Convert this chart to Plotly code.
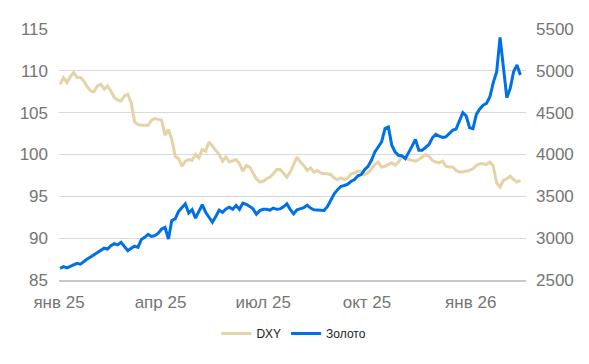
import pandas as pd
import plotly.graph_objects as go

# Dates: every 3 calendar days from 2 Jan 2025
dates = pd.date_range("2025-01-02", periods=137, freq="3D")

dxy = [
    108.4, 109.2, 108.6, 109.3, 109.8, 109.2, 109.2, 108.8, 108.1, 107.6,
    107.5, 108.2, 108.4, 107.8, 108.2, 107.6, 106.8, 106.5, 106.4, 107.0,
    107.2, 106.2, 103.9, 103.6, 103.5, 103.5, 103.5, 104.1, 104.3, 104.2,
    104.1, 102.3, 103.0, 101.8, 99.8, 99.5, 98.6, 99.2, 99.4, 99.3,
    100.0, 99.6, 100.6, 100.4, 101.5, 101.0, 100.5, 100.0, 99.2, 99.7,
    99.1, 99.3, 99.4, 98.9, 98.0, 98.7, 98.5, 97.8, 97.1, 96.7,
    96.8, 97.1, 97.3, 97.7, 98.2, 98.2, 97.8, 97.3, 97.9, 98.8,
    99.7, 99.1, 98.7, 98.1, 98.4, 97.9, 98.1, 97.8, 97.7, 97.7,
    97.6, 97.2, 97.0, 97.2, 97.0, 97.2, 97.7, 97.8, 98.0, 98.0,
    97.6, 97.8, 98.3, 98.8, 99.1, 98.5, 98.6, 98.8, 99.0, 98.7,
    99.1, 99.8, 99.6, 99.4, 99.3, 99.2, 99.4, 99.7, 100.0, 99.8,
    99.3, 99.1, 99.0, 99.2, 98.6, 98.5, 98.5, 98.1, 97.9, 97.9,
    98.0, 98.1, 98.3, 98.7, 98.9, 98.9, 98.8, 99.1, 98.6, 96.6,
    96.1, 96.9, 97.1, 97.4, 97.0, 96.7, 96.9,
]

gold = [
    2640, 2660, 2645, 2665, 2680, 2700, 2690, 2725, 2750, 2775,
    2800, 2830, 2860, 2880, 2870, 2910, 2935, 2920, 2950, 2900,
    2850, 2880, 2905, 2890, 2985, 3010, 3045, 3020, 3030, 3060,
    3110, 3130, 2990, 3210, 3230, 3320, 3370, 3410, 3300, 3340,
    3240, 3320, 3400, 3310, 3250, 3190, 3260, 3335, 3310, 3350,
    3370, 3345, 3390, 3345, 3420, 3405, 3380, 3350, 3285, 3330,
    3345, 3345, 3335, 3360, 3345, 3350, 3375, 3410, 3345, 3290,
    3340, 3355, 3365, 3395, 3360, 3340, 3335, 3330, 3330, 3380,
    3460, 3530, 3580, 3620, 3630, 3645, 3680, 3700, 3745, 3760,
    3820, 3860, 3930, 4030, 4090, 4150, 4310, 4330, 4110, 4030,
    3990, 3985, 3950, 4020, 4100, 4180, 4050, 4050, 4090, 4120,
    4200, 4240, 4220, 4205, 4210, 4250, 4290, 4305, 4410, 4500,
    4460, 4320, 4310, 4480, 4545, 4590, 4610, 4690, 4860, 4990,
    5400, 5060, 4680, 4790, 4990, 5070, 4950,
]

tick_dates = ["2025-01-01", "2025-04-01", "2025-07-01", "2025-10-01", "2026-01-01"]
tick_labels = ["янв 25", "апр 25", "июл 25", "окт 25", "янв 26"]

DXY_COLOR = "#E5D3A8"
GOLD_COLOR = "#0070E8"
FONT = "Liberation Sans, Arial, sans-serif"

fig = go.Figure()
fig.add_trace(go.Scatter(
    x=dates, y=dxy, name="DXY", mode="lines",
    line=dict(color=DXY_COLOR, width=3), yaxis="y",
))
fig.add_trace(go.Scatter(
    x=dates, y=gold, name="Золото", mode="lines",
    line=dict(color=GOLD_COLOR, width=3), yaxis="y2",
))

# the page body adds an 8px offset, so margins compensate for it
fig.update_layout(
    width=589, height=364,
    margin=dict(l=47, r=71, t=14, b=92),
    paper_bgcolor="white", plot_bgcolor="white",
    font=dict(family=FONT, color="#757575", size=17),
    xaxis=dict(
        type="date",
        range=["2025-01-01", "2026-02-19"],
        tickvals=tick_dates, ticktext=tick_labels,
        showgrid=False, zeroline=False,
        showline=True, linecolor="#C8C8C8", linewidth=2,
        ticks="", ticklabelstandoff=6,
        tickfont=dict(size=17, color="#757575"),
    ),
    yaxis=dict(
        range=[85, 115], dtick=5, tick0=85,
        showgrid=True, gridcolor="#D9D9D9", gridwidth=1,
        zeroline=False, showline=False, ticks="",
        ticklabelstandoff=10,
        tickfont=dict(size=17, color="#757575"),
    ),
    yaxis2=dict(
        range=[2500, 5500], dtick=500, tick0=2500,
        overlaying="y", side="right",
        showgrid=False, zeroline=False, showline=False, ticks="",
        ticklabelstandoff=9,
        tickfont=dict(size=17, color="#757575"),
    ),
    showlegend=True,
    legend=dict(
        orientation="h", x=0.503, xanchor="center", y=-0.213, yanchor="middle",
        font=dict(size=12, color="#222222", family=FONT),
        bgcolor="rgba(0,0,0,0)",
    ),
)

fig.write_html("out.html")
